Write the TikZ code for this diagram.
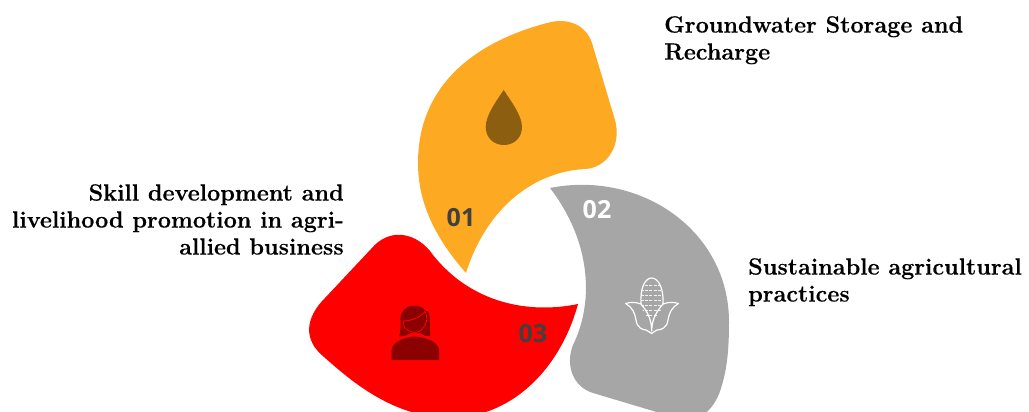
\documentclass[tikz,border=0pt]{standalone}
\usepackage{fontspec}
\newfontfamily\numfont{Open Sans}
\newfontfamily\capfont[BoldFeatures={FakeBold=0.35}]{Latin Modern Roman}
\definecolor{petalO}{HTML}{FDA921}
\definecolor{petalG}{HTML}{A6A6A6}
\definecolor{petalR}{HTML}{FF0000}
\definecolor{dropC}{HTML}{8C5E10}
\definecolor{personC}{HTML}{8B0000}
\definecolor{numC}{HTML}{404040}
\tikzset{x=1pt,y=-1pt,
  caption/.style={inner sep=0pt,font=\capfont\bfseries\fontsize{23.4}{27}\selectfont,text=black},
  numlabel/.style={inner sep=0pt,font=\numfont\bfseries\fontsize{25}{25}\selectfont},
  cornline/.style={draw=white,line width=1.2pt,line join=round,line cap=round,fill=none}}
\begin{document}
\begin{tikzpicture}
\useasboundingbox (0,0) rectangle (1029,412);
\begin{scope}
\clip (0,0) rectangle (1029,412);
% grey petal
\fill[petalG] (550,188) .. controls (640,170) and (729,230) .. (729,322)
  .. controls (729,350) and (727,368) .. (722,385)
  .. controls (716,408) and (700,424) .. (680,419) -- (593,393)
  .. controls (573,387) and (565,365) .. (573,345)
  .. controls (595,300) and (590,240) .. (550,188) -- cycle;
% orange petal
\fill[petalO] (466,273) .. controls (437,240) and (418,205) .. (418,163)
  .. controls (418,85) and (475,42) .. (547,23)
  .. controls (568,17) and (586,25) .. (592,43) -- (615,120)
  .. controls (622,145) and (607,168) .. (585,169)
  .. controls (530,172) and (485,212) .. (466,273) -- cycle;
% red petal
\fill[petalR] (578,304) .. controls (530,314) and (472,304) .. (433,255)
  .. controls (418,233) and (390,226) .. (371,249) -- (325,298)
  .. controls (305,318) and (303,340) .. (324,357)
  .. controls (350,380) and (390,415) .. (445,418)
  .. controls (510,420) and (560,370) .. (578,304) -- cycle;
\end{scope}
% drop
\fill[dropC] (503.7,90) .. controls (497,100) and (485.7,115) .. (485.7,127)
  .. controls (485.7,138) and (494,145) .. (503.7,145)
  .. controls (514,145) and (522,138) .. (522,127)
  .. controls (522,115) and (510,100) .. (503.7,90) -- cycle;
% corn
\begin{scope}
\clip (651.7,278) .. controls (645,278) and (640.5,288) .. (640.5,302)
  .. controls (640.5,310) and (646,316) .. (651.7,322)
  .. controls (657,316) and (663,310) .. (663,302)
  .. controls (663,288) and (658,278) .. (651.7,278) -- cycle;
\foreach \yy in {285,290,...,315}
  \draw[white!85!petalG,line width=1pt,dash pattern=on 3pt off 1.4pt] (640.5,\yy) -- (664,\yy);
\end{scope}
\draw[cornline] (641,304) .. controls (640,288) and (645,278) .. (651.7,278)
  .. controls (658,278) and (664,288) .. (663,304);
\draw[cornline] (651.7,331) .. controls (651.7,318) and (646,310) .. (641,304)
  .. controls (636,302) and (630,302) .. (625.7,303.5)
  .. controls (632,307) and (635,313) .. (636,320)
  .. controls (637,328) and (643,330) .. (646,330)
  .. controls (649,330) and (649,333.5) .. (651.7,333.5)
  .. controls (654,333.5) and (654,330) .. (657,330)
  .. controls (661,330) and (667,328) .. (668,320)
  .. controls (669,313) and (672,307) .. (678.5,303.5)
  .. controls (674,302) and (668,302) .. (663,304)
  .. controls (658,310) and (651.7,318) .. (651.7,331);
% person
\fill[personC] (391.7,360) -- (391.7,350) .. controls (391.7,342) and (405,337) .. (415,336.5)
  .. controls (425,337) and (439,342) .. (439,350) -- (439,360) -- cycle;
\fill[personC] (415,305.7) .. controls (406,305.7) and (400.5,311) .. (400.5,319)
  .. controls (400.5,326) and (401,332) .. (399,336.5)
  .. controls (403,336.5) and (408,335) .. (411,333)
  -- (420,333) .. controls (423,335) and (427,336.8) .. (430.5,336)
  .. controls (429,330) and (430.5,322) .. (429.5,316)
  .. controls (429,312) and (427,310) .. (425,310.5)
  .. controls (422,307) and (419,305.7) .. (415,305.7) -- cycle;
\draw[petalR,line width=0.8pt] (403.5,321)
  .. controls (412,321) and (422,316) .. (425,311.5)
  .. controls (427.5,316) and (427.5,322) .. (424.5,326)
  .. controls (422,330) and (418,332.5) .. (415,332.5)
  .. controls (411,332.5) and (406,330) .. (404.5,327)
  .. controls (403.5,325) and (403.2,323) .. (403.5,321) -- cycle;
% numbers
\node[numlabel,text=numC] (n1) at (461,218) {01};
\node[numlabel,text=white] (n2) at (597,210) {02};
\node[numlabel,text=numC] (n3) at (533,334) {03};
% captions
\node[caption,anchor=north west,align=left] (c1) at (664,16) {Groundwater Storage and\\Recharge};
\node[caption,anchor=north west,align=left] (c2) at (748,258) {Sustainable agricultural\\practices};
\node[caption,anchor=north east,align=right] (c3) at (344,184) {Skill development and\\livelihood promotion in agri-\\allied business};
\end{tikzpicture}
\end{document}
